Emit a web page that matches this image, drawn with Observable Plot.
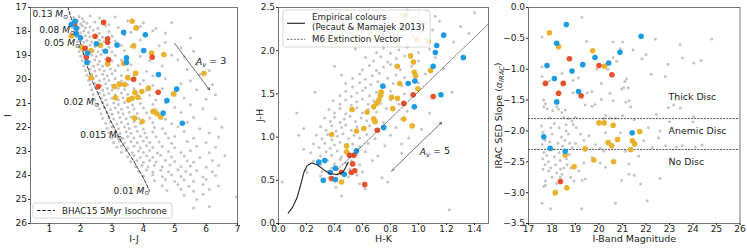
<!DOCTYPE html>
<html><head><meta charset="utf-8">
<script src="https://cdn.jsdelivr.net/npm/d3@7"></script>
<script src="https://cdn.jsdelivr.net/npm/@observablehq/plot@0.6"></script>
<style>
body{margin:0;background:#fff}
#wrap{position:relative;width:747px;height:249px;overflow:hidden}
#wrap svg{position:absolute;top:0;overflow:visible}
</style></head>
<body><div id="wrap"></div>
<script>
// ---------------- Panel 1: I vs I-J ----------------
const p1Ticks = [1,2,3,4,5,6,7];
const p1YTicks = [17,18,19,20,21,22,23,24,25,26];
const p1Grey = [[1.78,17.42],[1.95,17.38],[2.05,17.46],[2.3,17.35],[2.6,17.44],[3.1,17.4],[4.9,17.62],
[1.8,17.62],[1.9,17.55],[2.0,17.68],[2.1,17.58],[2.2,17.66],[2.45,17.6],[2.9,17.72],[3.5,17.56],[4.0,17.64],[1.75,17.82],[1.85,17.78],[1.95,17.85],[2.05,17.76],[2.15,17.84],[2.3,17.8],[2.55,17.86],[2.8,17.77],[3.2,17.83],[3.9,17.79],[4.4,17.88],
[1.8,18.02],[1.9,17.96],[2.0,18.05],[2.1,17.98],[2.25,18.04],[2.4,17.95],[2.6,18.07],[2.9,18.0],[3.6,18.03],[4.3,17.97],[4.7,18.06],
[1.85,18.22],[1.95,18.17],[2.05,18.25],[2.15,18.18],[2.3,18.23],[2.45,18.16],[2.7,18.24],[3.0,18.2],[3.4,18.15],[5.5,18.27],
[1.9,18.42],[2.0,18.37],[2.1,18.45],[2.2,18.38],[2.35,18.44],[2.6,18.36],[2.75,18.43],[3.1,18.4],[3.9,18.35],[4.7,18.46],
[1.95,18.62],[2.05,18.58],[2.2,18.65],[2.3,18.56],[2.45,18.63],[2.6,18.6],[2.9,18.66],[3.3,18.57],[3.6,18.64],[4.5,18.59],[5.2,18.68],
[1.95,18.83],[2.1,18.78],[2.25,18.86],[2.4,18.8],[2.55,18.84],[2.7,18.77],[3.0,18.85],[3.4,18.79],[5.6,18.82],
[2.0,19.03],[2.1,18.97],[2.2,19.05],[2.35,18.98],[2.5,19.04],[2.65,18.96],[2.85,19.06],[3.1,19.0],[3.9,19.03],[4.9,18.98],[5.3,19.05],
[2.05,19.22],[2.2,19.17],[2.3,19.25],[2.45,19.18],[2.6,19.24],[2.8,19.16],[3.0,19.23],[3.3,19.19],[4.2,19.22],[5.1,19.18],
[2.1,19.43],[2.25,19.37],[2.4,19.45],[2.55,19.38],[2.7,19.44],[2.9,19.36],[3.2,19.42],[3.6,19.39],[4.6,19.44],[5.7,19.37],
[2.15,19.62],[2.3,19.57],[2.45,19.65],[2.6,19.58],[2.75,19.64],[2.95,19.56],[3.1,19.63],[3.5,19.6],[4.1,19.66],[5.4,19.58],[6.1,19.62],
[2.2,19.82],[2.35,19.77],[2.5,19.85],[2.7,19.78],[2.85,19.84],[3.0,19.76],[3.3,19.83],[3.7,19.79],[4.3,19.84],[5.8,19.78],
[2.25,20.03],[2.4,19.97],[2.6,20.05],[2.75,19.98],[2.9,20.04],[3.1,19.96],[3.3,20.06],[3.6,20.0],[4.0,20.04],[4.7,19.97],[5.5,20.05],
[2.3,20.22],[2.45,20.17],[2.65,20.25],[2.8,20.18],[3.0,20.24],[3.2,20.12],[3.5,20.23],[3.9,20.19],[4.3,20.25],[5.2,20.17],[6.2,20.22],
[2.35,20.43],[2.55,20.37],[2.7,20.45],[2.85,20.38],[3.0,20.44],[3.2,20.36],[3.4,20.42],[3.7,20.39],[4.1,20.45],[4.6,20.37],[5.7,20.43],
[2.4,20.62],[2.6,20.57],[2.75,20.65],[2.9,20.58],[3.1,20.64],[3.3,20.56],[3.5,20.63],[3.8,20.6],[4.2,20.66],[4.9,20.58],[6.3,20.64],
[2.45,20.82],[2.65,20.77],[2.8,20.85],[3.0,20.78],[3.2,20.84],[3.35,20.76],[3.6,20.83],[3.9,20.79],[4.4,20.85],[5.3,20.77],[6.0,20.82],
[2.55,21.03],[2.7,20.97],[2.85,21.05],[3.05,20.98],[3.2,21.04],[3.4,20.96],[3.65,21.06],[3.9,21.0],[4.3,21.04],[4.7,20.97],[5.5,21.05],
[2.6,21.22],[2.75,21.17],[2.95,21.25],[3.1,21.18],[3.3,21.24],[3.5,21.16],[3.7,21.23],[4.0,21.19],[4.4,21.25],[5.0,21.17],[5.9,21.22],
[2.65,21.43],[2.85,21.37],[3.0,21.45],[3.2,21.38],[3.35,21.44],[3.55,21.36],[3.8,21.42],[4.1,21.39],[4.5,21.44],[5.2,21.37],
[2.7,21.62],[2.9,21.57],[3.05,21.65],[3.25,21.58],[3.45,21.64],[3.6,21.56],[3.85,21.63],[4.2,21.6],[4.7,21.66],[5.6,21.58],[6.3,21.62],
[2.8,21.82],[2.95,21.77],[3.15,21.85],[3.3,21.78],[3.5,21.84],[3.7,21.76],[3.9,21.83],[4.3,21.79],[4.9,21.84],[5.4,21.78],
[2.85,22.03],[3.0,21.97],[3.2,22.05],[3.4,21.98],[3.55,22.04],[3.75,21.96],[4.0,22.06],[4.35,22.0],[4.6,22.04],[5.1,21.97],[5.8,22.05],[6.5,21.99],
[2.9,22.22],[3.1,22.17],[3.25,22.25],[3.45,22.18],[3.6,22.24],[3.8,22.16],[4.05,22.23],[4.3,22.19],[4.7,22.25],[5.3,22.17],[6.1,22.22],
[3.0,22.43],[3.15,22.37],[3.35,22.45],[3.5,22.38],[3.7,22.44],[3.9,22.36],[4.1,22.42],[4.4,22.39],[4.8,22.44],[5.0,22.37],[5.6,22.45],[6.4,22.4],
[3.05,22.62],[3.25,22.57],[3.4,22.65],[3.6,22.58],[3.8,22.64],[4.0,22.56],[4.2,22.63],[4.5,22.6],[4.9,22.66],[5.4,22.58],[6.0,22.62],
[3.15,22.82],[3.3,22.77],[3.5,22.85],[3.7,22.78],[3.9,22.84],[4.1,22.76],[4.3,22.83],[4.6,22.79],[5.0,22.84],[5.7,22.78],[6.3,22.82],
[3.3,23.03],[3.45,22.97],[3.65,23.05],[3.85,22.98],[4.0,23.04],[4.2,22.96],[4.45,23.06],[4.8,23.0],[5.2,23.04],[5.5,22.97],[6.1,23.05],
[3.5,23.22],[3.7,23.17],[3.9,23.25],[4.1,23.18],[4.3,23.24],[4.55,23.16],[4.9,23.23],[5.3,23.19],[5.8,23.25],[6.6,23.18],
[3.6,23.43],[3.8,23.37],[4.0,23.45],[4.2,23.38],[4.4,23.44],[4.7,23.36],[5.0,23.42],[5.4,23.39],[5.6,23.45],[6.2,23.38],
[3.75,23.62],[3.95,23.57],[4.15,23.65],[4.35,23.58],[4.6,23.64],[4.85,23.56],[5.2,23.63],[5.5,23.6],[6.0,23.66],[6.4,23.58],
[3.85,23.82],[4.1,23.77],[4.3,23.85],[4.55,23.78],[4.8,23.84],[5.1,23.76],[5.35,23.83],[5.7,23.79],[6.2,23.84],
[4.0,24.03],[4.3,23.97],[4.6,24.05],[4.9,23.98],[5.2,24.04],[5.5,23.96],[5.9,24.06],[6.3,24.0],
[4.35,24.22],[4.7,24.17],[5.0,24.25],[5.3,24.18],[5.6,24.24],[6.0,24.16],
[4.6,24.43],[5.1,24.37],[5.45,24.45],[5.9,24.38],[6.4,24.44],
[4.75,24.62],[5.2,24.57],[5.6,24.66],[6.1,24.58],
[5.3,24.82],[5.9,24.78],[5.7,25.0],[5.6,25.35],[6.1,25.3],[6.97,24.9]];
const p1Blue = [[1.82,17.57],[1.70,17.71],[1.86,17.86],[1.86,18.1],[1.99,18.26],[2.5,18.51],[2.22,18.9],[2.79,18.82],[2.2,19.28],[3.16,18.56],[3.37,18.03],[4.06,18.14],[4.01,18.79],[3.46,19.1],[3.46,19.29],[4.48,19.79],[5.06,20.4],[4.75,20.88],[4.63,21.4],[5.24,21.82]];
const p1Red = [[1.81,17.68],[2.73,17.62],[2.46,18.2],[2.86,18.3],[2.86,18.45],[2.14,18.7],[2.18,19.07],[2.89,19.18],[4.28,19.07],[2.56,20.29],[3.69,19.99],[4.47,20.53]];
const p1Orange = [[1.70,18.19],[2.63,18.57],[2.04,18.68],[2.33,18.79],[2.86,19.35],[3.64,17.57],[3.77,17.85],[3.69,18.6],[4.26,18.9],[4.65,18.96],[3.37,19.32],[2.33,19.93],[3.08,20.29],[3.24,20.2],[3.40,20.21],[3.5,19.92],[3.75,19.74],[4.16,20.36],[3.73,20.54],[3.95,20.5],[3.11,20.76],[3.53,20.85],[3.64,20.78],[3.82,20.74],[4.97,20.6],[5.93,19.75],[4.31,21.33],[4.42,21.42],[4.55,21.56],[3.72,21.61],[3.96,21.75]];
const isochrone = [[1.58,16.95],[1.72,17.54],[1.94,18.24],[2.15,19.2],[2.36,20.04],[2.63,20.8],[2.95,21.7],[3.3,22.6],[3.69,23.4],[4.0,24.1],[4.2,24.65]];
const massLabels = [[0.46,17.29,"0.13"],[0.68,17.96,"0.08"],[0.84,18.5,"0.05"],[1.45,20.96,"0.02"],[1.99,22.33,"0.015"],[3.05,24.63,"0.01"]];
const p1Arrow = [[4.99,18.49,6.11,20.43]];
const p1ArrowLabel = [[5.67,19.28,"Av = 3"]];

// ---------------- Panel 2: J-H vs H-K ----------------
const p2XTicks = [0,0.2,0.4,0.6,0.8,1.0,1.2,1.4];
const p2YTicks = [0,0.5,1.0,1.5,2.0,2.5];
const p2Grey = [[1.22,0.16],[0.45,0.32],[0.026,0.48],[0.41,0.42],[0.62,0.4],[0.78,0.48],[0.58,0.46],[0.205,0.59],[0.18,0.86],
[0.3,0.55],[0.36,0.53],[0.42,0.57],[0.5,0.54],[0.56,0.56],[0.74,0.53],
[0.19,0.62],[0.31,0.6],[0.38,0.64],[0.44,0.61],[0.51,0.63],[0.6,0.6],[0.82,0.62],
[0.25,0.72],[0.3,0.68],[0.35,0.73],[0.4,0.69],[0.44,0.74],[0.48,0.7],[0.52,0.72],[0.58,0.68],[0.67,0.73],
[0.23,0.82],[0.3,0.78],[0.34,0.83],[0.38,0.79],[0.42,0.84],[0.45,0.77],[0.5,0.82],[0.56,0.8],[0.62,0.83],[0.71,0.78],[0.88,0.81],
[0.25,0.92],[0.29,0.88],[0.33,0.93],[0.37,0.87],[0.4,0.91],[0.44,0.94],[0.49,0.88],[0.53,0.92],[0.58,0.89],[0.64,0.93],[0.76,0.9],[0.88,0.92],
[0.27,1.02],[0.31,0.98],[0.35,1.03],[0.38,0.97],[0.42,1.01],[0.46,1.04],[0.5,0.98],[0.54,1.02],[0.58,0.99],[0.63,1.03],[0.69,0.98],[0.8,1.02],[0.93,0.99],[0.145,1.02],
[0.18,1.1],[0.3,1.12],[0.34,1.08],[0.38,1.13],[0.41,1.07],[0.45,1.11],[0.48,1.14],[0.52,1.08],[0.56,1.12],[0.6,1.09],[0.65,1.13],[0.72,1.07],[0.84,1.11],[1.02,1.09],
[0.13,1.28],[0.33,1.22],[0.37,1.18],[0.4,1.23],[0.44,1.17],[0.47,1.21],[0.51,1.24],[0.55,1.18],[0.59,1.22],[0.63,1.19],[0.68,1.23],[0.75,1.17],[0.88,1.21],
[0.36,1.32],[0.4,1.28],[0.44,1.33],[0.48,1.27],[0.52,1.31],[0.56,1.34],[0.6,1.28],[0.64,1.32],[0.7,1.29],[0.77,1.33],[0.92,1.3],[1.08,1.28],
[0.39,1.42],[0.44,1.38],[0.48,1.43],[0.52,1.37],[0.56,1.41],[0.6,1.44],[0.64,1.38],[0.68,1.42],[0.73,1.39],[0.8,1.43],[0.86,1.38],
[0.26,1.52],[0.44,1.48],[0.48,1.53],[0.52,1.47],[0.56,1.51],[0.6,1.54],[0.65,1.48],[0.7,1.52],[0.74,1.49],[0.8,1.53],[0.9,1.5],[1.24,1.52],
[0.48,1.62],[0.53,1.58],[0.58,1.63],[0.62,1.57],[0.66,1.61],[0.71,1.64],[0.76,1.58],[0.82,1.62],[0.88,1.59],[1.0,1.63],
[0.45,1.72],[0.53,1.68],[0.58,1.73],[0.62,1.67],[0.67,1.71],[0.72,1.74],[0.78,1.68],[0.84,1.72],[0.9,1.69],[1.05,1.73],
[0.4,1.82],[0.6,1.78],[0.65,1.83],[0.7,1.77],[0.75,1.81],[0.8,1.84],[0.87,1.78],[0.95,1.82],[1.18,1.79],
[0.62,1.92],[0.68,1.88],[0.73,1.93],[0.78,1.87],[0.84,1.91],[0.9,1.94],[1.0,1.88],[1.12,1.92],
[0.55,2.02],[0.7,1.98],[0.75,2.03],[0.8,1.97],[0.86,2.01],[0.92,2.04],[1.0,1.98],[1.08,2.02],
[0.74,2.12],[0.8,2.08],[0.86,2.13],[0.92,2.07],[0.98,2.11],[1.05,2.14],[1.25,2.1],
[0.78,2.22],[0.85,2.18],[0.9,2.23],[0.96,2.17],[1.02,2.21],[1.1,2.24],[1.36,2.2],
[0.82,2.32],[0.9,2.28],[0.95,2.33],[1.0,2.27],[1.05,2.31],[1.15,2.34],[1.3,2.28],
[0.88,2.42],[0.95,2.38],[1.0,2.43],[1.12,2.4],[1.4,2.44],[0.92,2.47],[1.06,2.46]];
const p2Orange = [[0.907,2.41],[0.99,2.13],[1.07,2.11],[0.943,1.94],[0.964,1.87],[0.848,1.82],[1.086,1.77],[0.97,1.75],[0.98,1.71],[0.866,1.62],[0.995,1.56],[0.733,1.52],[0.729,1.48],[0.717,1.43],[0.85,1.45],[0.807,1.46],[0.7,1.39],[0.68,1.35],[0.633,1.29],[0.526,1.32],[0.816,1.33],[0.68,1.21],[0.69,1.18],[0.895,1.21],[0.955,1.13],[0.557,1.07],[0.61,1.1],[0.38,1.03],[0.486,0.90],[0.486,0.83],[0.45,0.48]];
const p2Blue = [[1.18,2.18],[1.13,2.06],[1.12,1.98],[1.32,1.92],[1.105,1.82],[0.926,1.62],[0.974,1.65],[0.745,1.59],[0.97,1.35],[1.16,1.49],[0.752,1.11],[0.557,0.84],[0.288,0.71],[0.33,0.73],[0.407,0.64],[0.37,0.59],[0.47,0.57],[0.407,0.51],[0.32,0.50]];
const p2Red = [[0.962,1.49],[1.105,1.47],[0.895,1.39],[0.705,1.08],[0.507,0.79],[0.538,0.79],[0.53,0.69],[0.545,0.61],[0.52,0.59],[0.616,0.45],[0.45,0.59],[0.38,0.52]];
const empirical = [[0.069,0.12],[0.098,0.18],[0.133,0.30],[0.157,0.44],[0.181,0.59],[0.205,0.67],[0.236,0.70],[0.276,0.68],[0.324,0.62],[0.371,0.575],[0.419,0.567],[0.46,0.594],[0.48,0.65],[0.498,0.71]];
const extinction = [[0.42,0.62],[1.5,2.31]];
const p2Arrow = [[0.805,0.605,1.165,1.17]];
const p2ArrowLabel = [[1.007,0.833,"Av = 5"]];

// ---------------- Panel 3: IRAC slope vs I ----------------
const p3XTicks = [17,18,19,20,21,22,23,24,25,26];
const p3YTicks = [0,-0.5,-1.0,-1.5,-2.0,-2.5,-3.0,-3.5];
const discLimits = [-1.8,-2.3];
const discLabels = [[22.96,-1.45,"Thick Disc"],[22.96,-2.0,"Anemic Disc"],[22.96,-2.5,"No Disc"]];
const p3Grey = [[19.27,-0.16],[17.58,-0.48],[19.48,-0.55],[20.6,-0.56],[21.0,-0.56],[22.4,-0.51],[23.45,-0.6],[24.8,-0.51],[20.9,-0.67],[21.45,-0.69],[22.0,-0.76],[21.83,-0.83],[23.56,-0.82],[24.03,-0.9],[24.34,-0.86],[22.93,-0.92],[20.6,-0.81],[20.75,-0.87],[17.58,-0.96],[19.9,-1.0],[20.38,-1.0],[18.42,-1.07],[22.22,-1.08],[22.82,-1.12],[17.58,-1.12],[17.89,-1.19],[21.17,-1.16],[21.1,-1.2],[20.96,-1.32],[21.05,-1.3],[20.1,-1.23],[19.13,-1.14],[18.9,-1.18],[19.69,-1.36],[19.5,-1.38],[18.9,-1.38],[21.24,-1.3],[20.46,-1.39],[21.28,-1.51],[21.14,-1.53],[21.35,-1.61],[20.6,-1.51],[20.1,-1.49],[19.83,-1.57],[19.41,-1.58],[19.7,-1.6],[22.44,-1.73],[22.96,-1.62],[23.18,-1.58],[23.46,-1.63],[24.03,-1.77],[17.65,-1.5],[17.72,-1.56],[17.65,-1.61],[17.79,-1.64],[18.03,-1.67],[18.21,-1.61],[18.28,-1.65],[18.42,-1.7],[18.56,-1.66],[18.49,-1.78],[18.7,-1.8],[17.9,-1.79],[18.99,-1.78],[18.85,-1.84],[20.28,-1.75],[20.5,-1.79],[20.7,-1.79],
[17.58,-3.17],[17.94,-3.26],[19.26,-3.26],[20.7,-3.17],[22.05,-3.13],[22.6,-2.77],[21.77,-2.86],[20.96,-2.8],[21.27,-2.7],[21.5,-2.72],[20.28,-2.59],[20.05,-2.52],[19.71,-2.43],[19.35,-2.52],[19.14,-2.65],[19.28,-2.8],[19.42,-2.78],[18.93,-2.81],[18.8,-2.75],[17.72,-2.81],[17.72,-2.88],[17.65,-2.9],[17.86,-2.65],[18.36,-2.62],[18.43,-2.7],[18.64,-2.55],[18.74,-2.38],[18.86,-2.27],[19.0,-2.2],[19.21,-2.05],[19.35,-2.15],[19.57,-2.08],[19.85,-2.22],[20.05,-2.28],[20.2,-2.33],[20.28,-2.03],[20.91,-2.03],[21.13,-2.33],[21.27,-2.53],[21.69,-2.41],[22.26,-2.27],[22.54,-2.11],[22.6,-2.0],[22.83,-2.24],[24.1,-2.26],[24.39,-2.23],[23.54,-2.24],[23.3,-2.26],[21.9,-2.16],[22.1,-1.95],[19.03,-1.95],[18.9,-1.9],[18.6,-1.9],
[17.55,-1.92],[17.62,-2.02],[17.7,-2.15],[17.58,-2.22],[17.66,-2.35],[17.6,-2.45],[17.7,-2.55],[17.62,-2.62],[17.78,-2.4],[17.85,-2.5],[17.95,-2.6],[17.9,-2.18],[18.0,-2.05],[18.05,-2.3],[18.1,-2.42],[18.15,-2.55],[18.2,-2.68],[18.25,-2.2],[18.3,-2.35],[18.35,-2.48],[18.3,-1.95],[18.4,-2.1],[18.45,-2.25],[18.5,-2.6],[18.55,-2.15],[18.62,-2.45],[18.7,-2.05],[18.75,-2.2],[18.8,-2.6],[18.2,-2.85],[18.35,-2.75],[18.0,-2.75],[17.95,-1.95],[18.1,-1.88],[18.6,-2.0],
[20.2,-1.8],[21.0,-1.75],[21.5,-1.82],[23.0,-1.85],[24.0,-1.85]];
const p3Orange = [[17.89,-0.41],[18.28,-0.634],[19.73,-0.70],[20.24,-0.95],[20.0,-1.87],[20.22,-1.87],[20.6,-1.91],[21.73,-2.01],[20.79,-2.14],[20.39,-2.19],[20.54,-2.24],[21.42,-2.16],[21.52,-2.21],[21.35,-2.30],[18.56,-2.39],[19.41,-2.29],[19.78,-2.47],[20.62,-2.50],[18.94,-2.58],[18.63,-2.92],[18.14,-3.0]];
const p3Blue = [[18.61,-0.276],[21.79,-0.466],[18.2,-0.58],[19.83,-0.81],[20.89,-0.726],[17.79,-0.94],[19.31,-0.926],[20.41,-0.90],[18.85,-1.03],[18.10,-1.15],[19.13,-1.36],[18.2,-1.53],[21.41,-2.03],[17.65,-2.095],[17.92,-2.28],[18.56,-2.33]];
const p3Red = [[18.74,-0.83],[20.0,-0.94],[20.55,-1.09],[17.72,-1.23],[18.48,-1.23],[18.28,-1.39],[19.24,-1.43],[18.36,-2.82]];

// ---------------- styling ----------------
const GREY="#c4c4c4", BLUE="#1d9be2", ORANGE="#e9b22d", RED="#e8502a", INK="#222";
const FONT="DejaVu Sans, sans-serif";
const H=249, MT=7, MB=26;
const X=d=>d[0], Y=d=>d[1];

function pts(data, fill, r){ return Plot.dot(data,{x:X,y:Y,r,fill,stroke:null}); }
function axes(xt, yt, fmtX, fmtY){
  return [
    Plot.axisX({ticks:xt, tickSize:2, tickPadding:0, tickFormat:fmtX, label:null, fontSize:9, fill:INK}),
    Plot.axisY({ticks:yt, tickSize:2, tickPadding:1.5, tickFormat:fmtY, label:null, fontSize:9, fill:INK})
  ];
}
function labels(xl, yl, ydx){
  return [
    Plot.text([xl],{frameAnchor:"bottom", dy:15.5, lineAnchor:"middle", textAnchor:"middle", fontSize:9.5, fill:INK}),
    Plot.text([yl],{frameAnchor:"left", dx:ydx, rotate:-90, lineAnchor:"middle", textAnchor:"middle", fontSize:9.5, fill:INK})
  ];
}
const f1 = d3.format(".1f");

function rich(svg){
  d3.select(svg).selectAll("text").each(function(){
    const t=this.textContent, el=d3.select(this);
    let m;
    if((m=t.match(/^(\S+) Msun$/))){
      el.selectAll("*").remove(); el.text(null);
      el.append("tspan").text(m[1]+" ");
      el.append("tspan").attr("font-style","italic").text("M");
      el.append("tspan").attr("font-size","0.7em").attr("dy","0.3em").text("⊙");
    } else if((m=t.match(/^Av = (\d)$/))){
      el.selectAll("*").remove(); el.text(null);
      el.append("tspan").attr("font-style","italic").text("A");
      el.append("tspan").attr("font-style","italic").attr("font-size","0.72em").attr("dy","0.3em").text("v");
      el.append("tspan").attr("dy","-0.3em").text(" = "+m[1]);
    } else if(t==="IRAC SED Slope (aIRAC)"){
      el.selectAll("*").remove(); el.text(null);
      el.append("tspan").text("IRAC SED Slope (");
      el.append("tspan").attr("font-style","italic").text("α");
      el.append("tspan").attr("font-style","italic").attr("font-size","0.7em").attr("dy","0.3em").text("IRAC");
      el.append("tspan").attr("dy","-0.3em").text(")");
    }
  });
}

function legend(svg, x, y, w, h, rows){
  const g=d3.select(svg).append("g").attr("font-family",FONT).attr("font-size","8.7px")
    .attr("fill",INK).attr("text-anchor","start");
  g.append("rect").attr("x",x).attr("y",y).attr("width",w).attr("height",h).attr("rx",2.5)
   .attr("fill","white").attr("fill-opacity",0.8).attr("stroke","#cccccc").attr("stroke-width",0.8);
  for(const r of rows){
    if(r.line) g.append("line").attr("x1",x+4).attr("x2",x+22).attr("y1",y+r.ly).attr("y2",y+r.ly)
      .attr("stroke",INK).attr("stroke-width",r.w).attr("stroke-dasharray",r.dash||null);
    g.append("text").attr("x",x+29).attr("y",y+r.ty).attr("dy","0.35em").attr("text-anchor","start").text(r.text);
  }
}

const wrap=document.getElementById("wrap");

// Panel 1
const s1 = Plot.plot({
  width:245, height:H, marginTop:MT, marginBottom:MB, marginLeft:30, marginRight:8,
  style:{fontFamily:FONT, fontSize:"9px", background:"transparent", color:INK, overflow:"visible"},
  x:{domain:[0.4,7]}, y:{domain:[17,26], reverse:true},
  marks:[
    pts(p1Grey, GREY, 1.5),
    Plot.line(isochrone,{x:X,y:Y,stroke:INK,strokeWidth:0.9,strokeDasharray:"3.5,1.8",clip:true}),
    pts(p1Orange, ORANGE, 2.8), pts(p1Red, RED, 2.8), pts(p1Blue, BLUE, 2.8),
    Plot.arrow(p1Arrow,{x1:d=>d[0],y1:d=>d[1],x2:d=>d[2],y2:d=>d[3],stroke:"#333",strokeWidth:0.7,headLength:5}),
    Plot.text(massLabels,{x:X,y:Y,text:d=>d[2]+" Msun",textAnchor:"start",fontSize:9,fill:INK}),
    Plot.text(p1ArrowLabel,{x:X,y:Y,text:d=>d[2],textAnchor:"start",fontSize:9.5,fill:INK}),
    Plot.frame({stroke:"#555",strokeWidth:0.8}),
    ...axes(p1Ticks,p1YTicks,d3.format("d"),d3.format("d")),
    ...labels("I-J","I",-23)
  ]
});
s1.style.left="0px";
rich(s1);
legend(s1,33,203,139,15,[{line:true,ly:7.5,ty:7.5,w:1,dash:"3.5,1.8",text:"BHAC15 5Myr Isochrone"}]);
wrap.appendChild(s1);

// Panel 2
const s2 = Plot.plot({
  width:250, height:H, marginTop:MT, marginBottom:MB, marginLeft:33, marginRight:7,
  style:{fontFamily:FONT, fontSize:"9px", background:"transparent", color:INK, overflow:"visible"},
  x:{domain:[0,1.5]}, y:{domain:[0,2.5]},
  marks:[
    pts(p2Grey, GREY, 1.5),
    pts(p2Orange, ORANGE, 2.8), pts(p2Red, RED, 2.8), pts(p2Blue, BLUE, 2.8),
    Plot.line(empirical,{x:X,y:Y,stroke:INK,strokeWidth:1.1}),
    Plot.line(extinction,{x:X,y:Y,stroke:"#333",strokeWidth:0.7,strokeDasharray:"2,1.4",clip:true}),
    Plot.arrow(p2Arrow,{x1:d=>d[0],y1:d=>d[1],x2:d=>d[2],y2:d=>d[3],stroke:"#333",strokeWidth:0.7,headLength:5}),
    Plot.text(p2ArrowLabel,{x:X,y:Y,text:d=>d[2],textAnchor:"start",fontSize:9.5,fill:INK}),
    Plot.frame({stroke:"#555",strokeWidth:0.8}),
    ...axes(p2XTicks,p2YTicks,f1,f1),
    ...labels("H-K","J-H",-19)
  ]
});
s2.style.left="245px";
rich(s2);
legend(s2,38,10,147,37,[
  {line:true,ly:13.3,ty:7.3,w:1.1,text:"Empirical colours"},
  {line:false,ty:17.3,text:"(Pecaut & Mamajek 2013)"},
  {line:true,ly:29.3,ty:29.3,w:0.7,dash:"2,1.4",text:"M6 Extinction Vector"}
]);
wrap.appendChild(s2);

// Panel 3
const s3 = Plot.plot({
  width:252, height:H, marginTop:MT, marginBottom:MB, marginLeft:33, marginRight:7.5,
  style:{fontFamily:FONT, fontSize:"9px", background:"transparent", color:INK, overflow:"visible"},
  x:{domain:[17,26]}, y:{domain:[-3.5,0]},
  marks:[
    pts(p3Grey, GREY, 1.5),
    Plot.ruleY(discLimits,{stroke:INK,strokeWidth:0.8,strokeDasharray:"2,1.2"}),
    pts(p3Orange, ORANGE, 2.8), pts(p3Red, RED, 2.8), pts(p3Blue, BLUE, 2.8),
    Plot.text(discLabels,{x:X,y:Y,text:d=>d[2],textAnchor:"start",fontSize:9.4,fill:INK}),
    Plot.frame({stroke:"#555",strokeWidth:0.8}),
    ...axes(p3XTicks,p3YTicks,d3.format("d"),f1),
    ...labels("I-Band Magnitude","IRAC SED Slope (aIRAC)",-30)
  ]
});
s3.style.left="495px";
rich(s3);
wrap.appendChild(s3);
</script></body></html>
